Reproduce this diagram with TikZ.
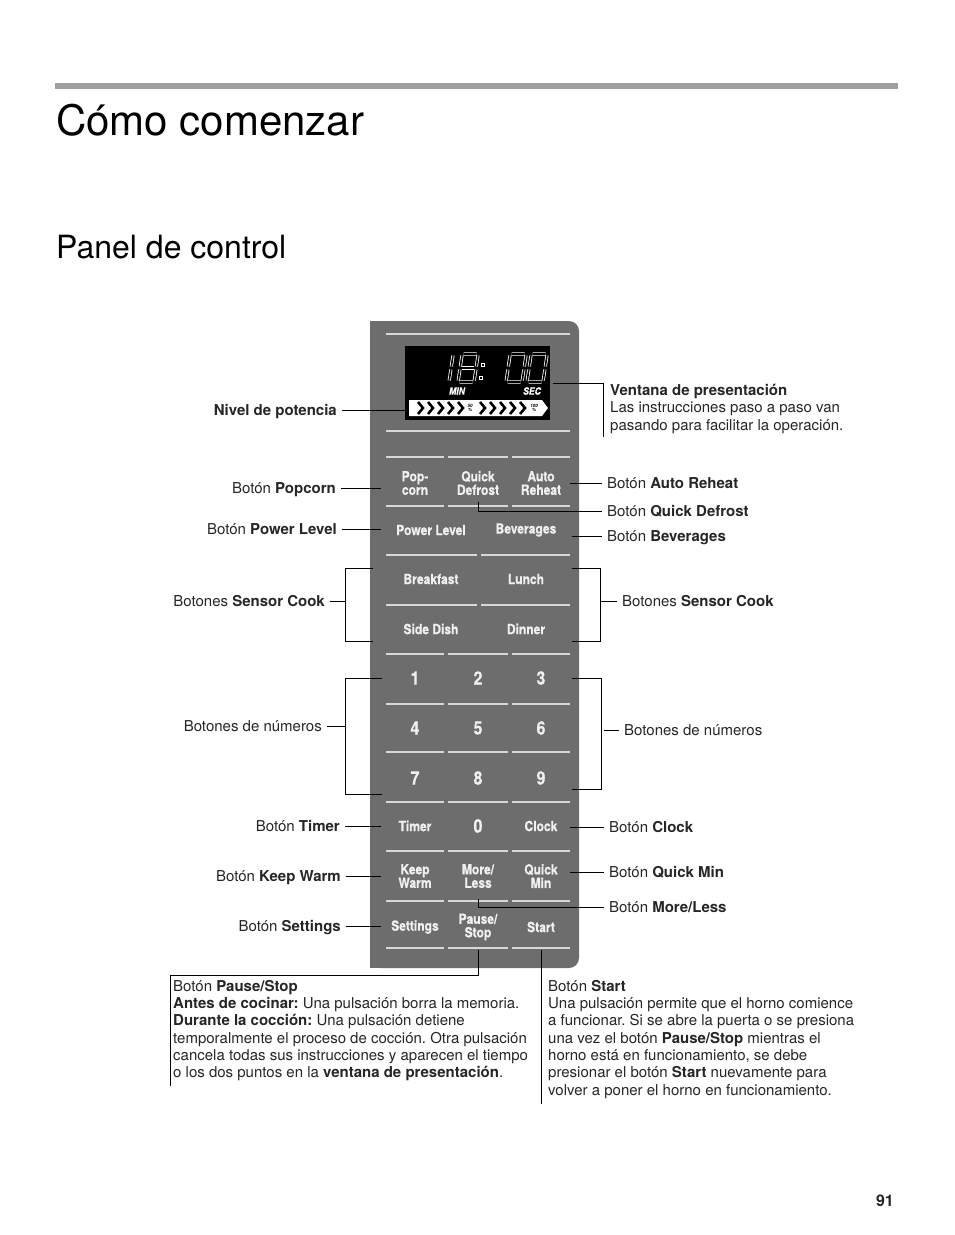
\documentclass[tikz,border=0pt]{standalone}
\usepackage{fontspec}
\setmainfont{TeX Gyre Heros}
\newfontfamily\btnfont{TeX Gyre Heros}[FakeStretch=0.86,FakeBold=0.5]
\usetikzlibrary{positioning,calc}
\frenchspacing

\begin{document}
\begin{tikzpicture}[x=1pt,y=-1pt,
  lead/.style={draw=black,line width=.8pt},
  lbl/.style={font=\fontsize{15}{17.3}\selectfont,text=black!85,inner xsep=5pt,inner ysep=0pt,text height=10pt,text depth=0pt},
  note/.style={font=\fontsize{15}{17.3}\selectfont,text=black!85,align=left,anchor=north west,inner xsep=4pt,inner ysep=5pt},
  btn/.style={font=\btnfont\bfseries\fontsize{14}{13.5}\selectfont,text=white!94!black,align=center,inner sep=0pt,minimum width=58pt,minimum height=46pt},
  wbtn/.style={btn,minimum width=91pt},
  digit/.style={btn,font=\btnfont\bfseries\fontsize{18.5}{18.5}\selectfont},
  disptext/.style={font=\btnfont\bfseries\itshape\fontsize{10}{10}\selectfont,text=white,inner sep=0pt},
  sepline/.style={draw=sepgray,line width=1.5pt},
  seg/.style={draw=white,double=black,double distance=1.6pt,line width=.8pt}]
\definecolor{panelgray}{RGB}{109,109,109}
\definecolor{sepgray}{RGB}{215,215,215}
\definecolor{bargray}{RGB}{160,160,160}
\fill[white] (0,0) rectangle (954,1235);
\useasboundingbox (0,0) rectangle (954,1235);
% page head
\fill[bargray] (55,83) rectangle (898,89);
\node[anchor=base west,inner sep=0pt,font=\fontsize{42}{42}\selectfont] (title) at (56,135) {Cómo comenzar};
\node[anchor=base west,inner sep=0pt,font=\fontsize{32}{32}\selectfont] (sub) at (56,258) {Panel de control};
\node[anchor=base east,inner sep=0pt,font=\bfseries\fontsize{16}{16}\selectfont,text=black!85] (pnum) at (894,1206) {91};
% panel
\fill[panelgray,rounded corners=10pt] (370,321) rectangle (579,968);
\fill[panelgray] (370,321) rectangle (480,968);
\foreach \y in {334,431} \draw[sepline] (386,\y) -- (570,\y);
\foreach \y in {457,506,654,704,752,802,851,901,948}
  \foreach \a/\b in {386/444,448/508,512/570} \draw[sepline] (\a,\y) -- (\b,\y);
\foreach \y in {555,605}
  \foreach \a/\b in {386/477,481/570} \draw[sepline] (\a,\y) -- (\b,\y);
% display window
\node[fill=black,inner sep=0pt,minimum width=145pt,minimum height=74pt] (disp) at (477.5,383) {};
\foreach \x in {458,506,527}{
  \begin{scope}[shift={(\x,382)},xslant=.15]
    \draw[seg] (1.5,-28)--(14.5,-28) (16,-26.5)--(16,-15.5) (16,-12.5)--(16,-1.5)
      (1.5,0)--(14.5,0) (0,-12.5)--(0,-1.5) (0,-26.5)--(0,-15.5);
  \end{scope}}
\begin{scope}[shift={(458,382)},xslant=.15]
  \draw[seg] (2,-14)--(14,-14);
\end{scope}
\begin{scope}[shift={(433,382)},xslant=.15]
  \draw[seg] (16,-26.5)--(16,-15.5) (16,-12.5)--(16,-1.5);
\end{scope}
\draw[white,fill=black,line width=.7pt] (481,363) rectangle (484,366.5) (479,376) rectangle (482,379.5);
\node[disptext] (min) at (457,391) {MIN};
\node[disptext] (sec) at (532,391) {SEC};
\fill[white] (409,400) -- (542,400) -- (548,408) -- (542,416) -- (409,416) -- cycle;
\foreach \x in {418,428,438,448,458,480,490,500,510,520}
  \draw[line width=2.6pt] (\x,402) -- (\x+5,408) -- (\x,414);
\node[font=\bfseries\itshape\fontsize{4.5}{4.5}\selectfont,align=center,inner sep=0pt] (p50) at (470,408) {50\\\%};
\node[font=\bfseries\itshape\fontsize{4.5}{4.5}\selectfont,align=center,inner sep=0pt] (p100) at (534,408) {100\\\%};
\coordinate (bar) at (409,410);
\coordinate (pl) at (381,0);
% buttons
\node[btn] (bpop) at (415,483) {Pop-\\corn};
\node[btn] (bqdef) at (478,483) {Quick\\Defrost};
\node[btn] (bauto) at (541,483) {Auto\\Reheat};
\node[wbtn] (bpow) at (431,530) {Power Level};
\node[wbtn] (bbev) at (526,530) {Beverages};
\node[wbtn] (bbreak) at (431,579) {Breakfast};
\node[wbtn] (blunch) at (526,579) {Lunch};
\node[wbtn] (bside) at (431,629) {Side Dish};
\node[wbtn] (bdin) at (526,629) {Dinner};
\foreach \n in {1,...,9}
  \node[digit] (b\n) at ({415+63*mod(\n-1,3)},{678+50*int((\n-1)/3)}) {\n};
\node[btn] (btim) at (415,826) {Timer};
\node[digit] (b0) at (478,826) {0};
\node[btn] (bclock) at (541,826) {Clock};
\node[btn] (bkeep) at (415,876) {Keep\\Warm};
\node[btn] (bmore) at (478,876) {More/\\Less};
\node[btn] (bqmin) at (541,876) {Quick\\Min};
\node[btn] (bset) at (415,927) {Settings};
\node[btn] (bpause) at (478,927) {Pause/\\Stop};
\node[btn] (bstart) at (541,927) {Start};
% labels left
\node[lbl,anchor=east] (lniv) at (342,410) {\textbf{Nivel de potencia}};
\node[lbl,anchor=east] (lpop) at (341,488) {Botón \textbf{Popcorn}};
\node[lbl,anchor=east] (lpow) at (342,529) {Botón \textbf{Power Level}};
\node[lbl,anchor=east] (lsens) at (330,601) {Botones \textbf{Sensor Cook}};
\node[lbl,anchor=east] (lnum) at (327,726) {Botones de números};
\node[lbl,anchor=east] (ltim) at (345,826) {Botón \textbf{Timer}};
\node[lbl,anchor=east] (lkeep) at (346,876) {Botón \textbf{Keep Warm}};
\node[lbl,anchor=east] (lset) at (346,926) {Botón \textbf{Settings}};
% labels right
\node[note,inner xsep=7pt,inner ysep=3pt] (rvent) at (603,381) {\textbf{Ventana de presentación}\\Las instrucciones paso a paso van\\pasando para facilitar la operación.};
\node[lbl,anchor=west] (rauto) at (602,483) {Botón \textbf{Auto Reheat}};
\node[lbl,anchor=west] (rqdef) at (602,511) {Botón \textbf{Quick Defrost}};
\node[lbl,anchor=west] (rbev) at (602,536) {Botón \textbf{Beverages}};
\node[lbl,anchor=west] (rsens) at (617,601) {Botones \textbf{Sensor Cook}};
\node[lbl,anchor=west] (rnum) at (619,730) {Botones de números};
\node[lbl,anchor=west] (rclock) at (604,827) {Botón \textbf{Clock}};
\node[lbl,anchor=west] (rqmin) at (604,872) {Botón \textbf{Quick Min}};
\node[lbl,anchor=west] (rmore) at (604,907) {Botón \textbf{More/Less}};
% notes below
\node[note,inner xsep=3pt] (pnote) at (170,975) {Botón \textbf{Pause/Stop}\\
  \textbf{Antes de cocinar:} Una pulsación borra la memoria.\\
  \textbf{Durante la cocción:} Una pulsación detiene\\
  temporalmente el proceso de cocción. Otra pulsación\\
  cancela todas sus instrucciones y aparecen el tiempo\\
  o los dos puntos en la \textbf{ventana de presentación}.};
\node[note,inner xsep=7pt] (snote) at (541,975) {Botón \textbf{Start}\\
  Una pulsación permite que el horno comience\\
  a funcionar. Si se abre la puerta o se presiona\\
  una vez el botón \textbf{Pause/Stop} mientras el\\
  horno está en funcionamiento, se debe\\
  presionar el botón \textbf{Start} nuevamente para\\
  volver a poner el horno en funcionamiento.};
% leaders
\draw[lead] (lniv.east) -- (lniv.east -| bar);
\foreach \l in {lpop,lpow,ltim,lkeep,lset} \draw[lead] (\l.east) -- (\l.east -| pl);
\draw[lead] (373,568) -- (345,568) -- (345,641) -- (373,641);
\draw[lead] (lsens.east) -- (lsens.east -| 345,0);
\draw[lead] (382,678) -- (345,678) -- (345,794) -- (382,794);
\draw[lead] (lnum.east) -- (lnum.east -| 345,0);
\draw[lead] ([xshift=3pt]disp.east) -- (disp.east -| rvent.west) -- (rvent.south west);
\foreach \r/\b in {rauto/bauto,rbev/bbev,rclock/bclock,rqmin/bqmin} \draw[lead] (\r.west -| \b.east) -- (\r.west);
\draw[lead,shorten <=-4pt] (bqdef.south) |- (rqdef.west);
\draw[lead] (bmore.south) |- (rmore.west);
\draw[lead] (572,568) -- (600,568) -- (600,641) -- (572,641);
\draw[lead] (rsens.west) -- (rsens.west -| 600,0);
\draw[lead] (572,678) -- (601,678) -- (601,789) -- (572,789);
\draw[lead] (rnum.west) -- (rnum.west -| 604,0);
\draw[lead] (bpause.south) |- (pnote.north west) -- (pnote.south west);
\draw[lead] (bstart.south) -- (bstart.south |- snote.south);
\end{tikzpicture}
\end{document}
